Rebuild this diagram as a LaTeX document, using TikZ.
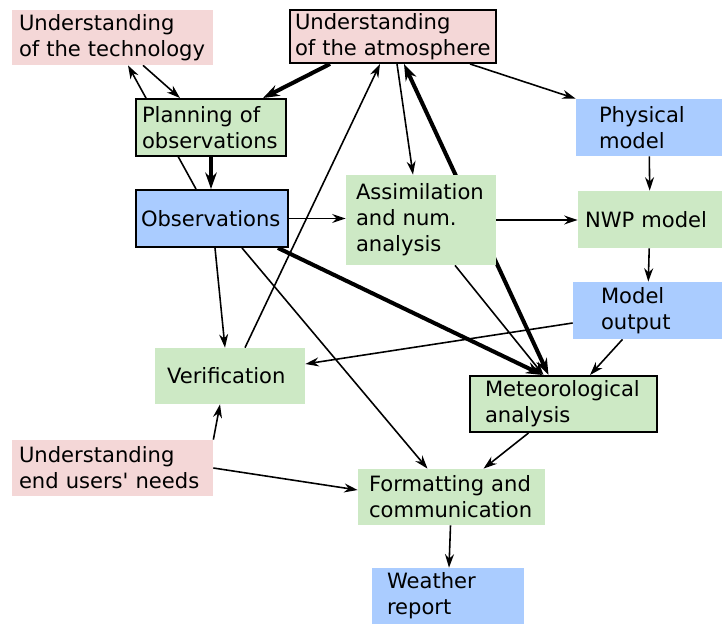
\documentclass[tikz,border=0pt]{standalone}
\usepackage{fontspec}
\setmainfont{DejaVu Sans}
\definecolor{userpink}{RGB}{244,215,215}
\definecolor{stepgreen}{RGB}{205,233,197}
\definecolor{datablue}{RGB}{170,204,255}
\usetikzlibrary{arrows.meta,backgrounds}

\begin{document}
\begin{tikzpicture}[font=\fontsize{12}{14.8}\selectfont,
        box/.style={align=left,minimum height=1.14cm,inner ysep=0pt},
        und/.style={box,fill=userpink},
        proc/.style={box,fill=stepgreen},
        data/.style={box,fill=datablue},
        key/.style={draw,line width=1.1pt},
        arr/.style={-{Stealth[length=2.7mm,width=1.8mm]},line width=0.9pt},
        big/.style={-{Stealth[length=3.3mm,width=2.3mm]},line width=2.3pt},
        both/.style={big,{Stealth[length=3.3mm,width=2.3mm]}-{Stealth[length=3.3mm,width=2.3mm]}}]
        \useasboundingbox (0,0) rectangle (14.44,-12.48);
        \node[und,text width=3.74cm,inner xsep=0.14cm,minimum height=1.10cm] (tech) at (2.25,-0.75) {Understanding\\of the technology};
        \node[und,key,text width=3.92cm,inner xsep=0.10cm,minimum height=1.06cm] (atm) at (7.86,-0.73) {Understanding\\of the atmosphere};
        \node[proc,key,text width=2.76cm,inner xsep=0.12cm] (plan) at (4.22,-2.55) {Planning of\\observations};
        \node[data,text width=2.0cm,inner xsep=0.46cm] (phys) at (12.98,-2.55) {Physical\\model};
        \node[data,key,text width=2.84cm,inner xsep=0.10cm] (obs) at (4.24,-4.37) {Observations};
        \node[proc,text width=2.6cm,inner xsep=0.20cm,minimum height=1.8cm] (assim) at (8.42,-4.40) {Assimilation\\and num.\\analysis};
        \node[proc,text width=2.6cm,inner xsep=0.14cm] (nwp) at (13.0,-4.39) {NWP model};
        \node[data,text width=1.86cm,inner xsep=0.56cm] (mout) at (12.95,-6.21) {Model\\output};
        \node[proc,text width=2.52cm,inner xsep=0.24cm,minimum height=1.12cm] (verif) at (4.6,-7.52) {Verification};
        \node[proc,key,text width=3.14cm,inner xsep=0.30cm,minimum height=1.12cm] (met) at (11.27,-8.08) {Meteorological\\analysis};
        \node[und,text width=3.74cm,inner xsep=0.14cm,minimum height=1.12cm] (users) at (2.25,-9.36) {Understanding\\end users\textquotesingle{} needs};
        \node[proc,text width=3.3cm,inner xsep=0.22cm,minimum height=1.12cm] (fmt) at (9.03,-9.94) {Formatting and\\communication};
        \node[data,text width=2.44cm,inner xsep=0.30cm,minimum height=1.12cm] (report) at (8.96,-11.92) {Weather\\report};
        \begin{pgfonlayer}{background}
        \draw[arr] ([xshift=0.61cm]tech.south) -- ([xshift=-0.62cm]plan.north);
        \draw[arr] ([xshift=-0.32cm]obs.north) -- ([xshift=0.31cm]tech.south);
        \draw[big] ([xshift=-1.26cm]atm.south) -- ([xshift=1.04cm]plan.north);
        \draw[big] (plan.south) -- (plan.south |- obs.north);
        \draw[arr] ([xshift=1.54cm]atm.south) -- (phys.north west);
        \draw[arr] ([xshift=0.08cm]atm.south) -- ([xshift=-0.16cm]assim.north);
        \draw[both] ([xshift=-0.3cm]met.north) -- ([xshift=0.22cm]atm.south);
        \draw[arr] ([xshift=0.3cm]verif.north) -- ([xshift=-0.26cm]atm.south);
        \draw[arr] (obs.east) -- (obs.east -| assim.west);
        \draw[arr] (assim.east) -- (assim.east -| nwp.west);
        \draw[arr] (phys) -- (nwp);
        \draw[arr] (nwp) -- (mout);
        \draw[arr] ([yshift=-0.25cm]mout.west) -- ([yshift=0.24cm]verif.east);
        \draw[arr] ([xshift=-0.5cm]mout.south) -- ([xshift=0.53cm]met.north);
        \draw[arr] ([xshift=0.06cm]obs.south) -- ([xshift=-0.1cm]verif.north);
        \draw[arr] ([xshift=0.6cm]obs.south) -- ([xshift=-0.48cm]fmt.north);
        \draw[big] ([xshift=-0.22cm]obs.south east) -- ([xshift=-0.42cm]met.north);
        \draw[arr] ([xshift=0.68cm]assim.south) -- ([xshift=-0.4cm]met.north);
        \draw[arr] ([xshift=-0.7cm]met.south) -- ([xshift=0.64cm]fmt.north);
        \draw[arr] (users.north east) -- ([xshift=-0.2cm]verif.south);
        \draw[arr] (users.east) -- ([yshift=0.14cm]fmt.west);
        \draw[arr] (fmt) -- (report);
        \end{pgfonlayer}
      \end{tikzpicture}
\end{document}
